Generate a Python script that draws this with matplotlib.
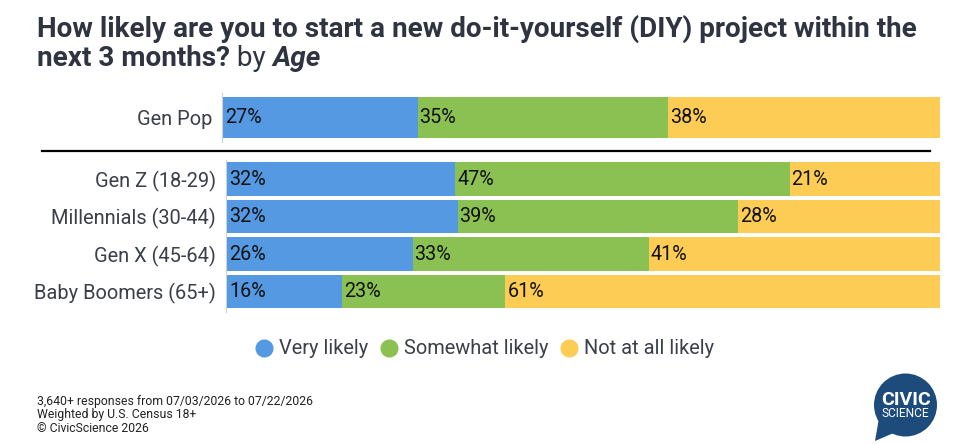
import matplotlib
matplotlib.use("Agg")
import matplotlib.pyplot as plt
from matplotlib.lines import Line2D
from matplotlib.patches import Circle, Polygon

# ---------------- data ----------------
series_names = ["Very likely", "Somewhat likely", "Not at all likely"]
colors = ["#5599E2", "#8BC152", "#FDCC55"]

total_label = ["Gen Pop"]
total_values = [[27.1], [35.0], [37.9]]

age_groups = ["Gen Z (18-29)", "Millennials (30-44)", "Gen X (45-64)", "Baby Boomers (65+)"]
very_likely = [32.0, 32.3, 26.0, 16.1]
somewhat_likely = [46.9, 39.4, 33.1, 22.9]
not_at_all = [21.1, 28.3, 40.9, 61.0]

title_line1 = "How likely are you to start a new do-it-yourself (DIY) project within the"
title_line2_bold = "next 3 months?"
title_line2_by = " by "
title_line2_age = "Age"

footer_lines = ["3,640+ responses from 07/03/2026 to 07/22/2026",
                "Weighted by U.S. Census 18+",
                "\u00a9 CivicScience 2026"]

# ---------------- figure ----------------
W, H = 966, 444
DPI = 100
plt.rcParams["font.family"] = ["Roboto", "DejaVu Sans"]
fig = plt.figure(figsize=(W / DPI, H / DPI), dpi=DPI)
fig.patch.set_facecolor("white")

TITLE_C = "#2E3440"
LABEL_C = "#3A3F4A"
TITLE_FS = 20.1


def fx(px):
    return px / W


def fy(py):
    return 1 - py / H


def px2pt(p):
    return p * 72 / DPI


def add_ax(left, right, top, bottom):
    return fig.add_axes([fx(left), fy(bottom), fx(right) - fx(left), (bottom - top) / H])


def style_ax(ax, eps):
    ax.set_xlim(-eps, 100)
    for s in ["top", "right", "bottom"]:
        ax.spines[s].set_visible(False)
    ax.spines["left"].set_color("#D0D0D0")
    ax.spines["left"].set_linewidth(0.8)
    ax.set_xticks([])
    ax.tick_params(axis="y", length=0, pad=px2pt(10), labelsize=14.4, labelcolor=LABEL_C)
    ax.set_facecolor("none")


def draw_stack(ax, labels, series, height):
    ypos = list(range(len(labels)))
    left = [0.0] * len(labels)
    for vals, col in zip(series, colors):
        bars = ax.barh(ypos, vals, left=left, height=height, color=col, linewidth=0)
        for b, v in zip(bars, vals):
            ax.annotate(f"{round(v):d}%", xy=(b.get_x(), b.get_y() + b.get_height() / 2),
                        xytext=(px2pt(2), 0), textcoords="offset points",
                        ha="left", va="center", fontsize=14.2, color="#111111")
        left = [l + v for l, v in zip(left, vals)]
    ax.set_yticks(ypos)
    ax.set_yticklabels(labels)


# Gen Pop axes
ax1 = add_ax(222.3, 940, 93, 142)
style_ax(ax1, 1.0 / 716.7 * 100)
draw_stack(ax1, total_label, total_values, 1.0)
ax1.set_ylim(0.5 + (142 - 138.3) / 41.6, -0.5 - (96.7 - 93) / 41.6)

# Age axes
ax2 = add_ax(226, 940, 160, 311.7)
style_ax(ax2, 1.3 / 712.7 * 100)
draw_stack(ax2, age_groups, [very_likely, somewhat_likely, not_at_all], 0.896)
pitch = 37.4
ax2.set_ylim(3 + (311.7 - 291.4) / pitch, -(179.2 - 160) / pitch)

# separator line
fig.add_artist(Line2D([fx(42), fx(930)], [fy(151), fy(151)], color="black", linewidth=1.6))

# ---------------- title ----------------
fig.text(fx(37), fy(36.5), title_line1, fontsize=TITLE_FS, fontweight="bold", color=TITLE_C,
         ha="left", va="baseline")
t1 = fig.text(fx(37), fy(66.5), title_line2_bold, fontsize=TITLE_FS, fontweight="bold",
              color=TITLE_C, ha="left", va="baseline")
fig.canvas.draw()
r = fig.canvas.get_renderer()
x_end = t1.get_window_extent(r).x1
t2 = fig.text(x_end / W, fy(66.5), title_line2_by, fontsize=TITLE_FS, color=TITLE_C,
              ha="left", va="baseline")
x_end = t2.get_window_extent(r).x1
fig.text(x_end / W, fy(66.5), title_line2_age, fontsize=TITLE_FS, fontweight="bold",
         fontstyle="italic", color=TITLE_C, ha="left", va="baseline")

# ---------------- legend ----------------
handles = [Line2D([0], [0], marker="o", linestyle="", markersize=12,
                  markerfacecolor=c, markeredgecolor=c) for c in colors]
fig.legend(handles, series_names, loc="center", bbox_to_anchor=(fx(484), fy(349)),
           ncol=3, frameon=False, fontsize=14.4, handletextpad=0.25, columnspacing=0.55,
           handlelength=1.0, labelcolor=LABEL_C)

# ---------------- footer ----------------
for i, line in enumerate(footer_lines):
    fig.text(fx(37), fy(401 + i * 13.6), line, fontsize=8.8, color="#222222",
             ha="left", va="center")

# ---------------- logo ----------------
logo_c = "#1C4B7C"
lax = fig.add_axes([0, 0, 1, 1], facecolor="none")
lax.set_xlim(0, W)
lax.set_ylim(H, 0)
lax.axis("off")
lax.add_patch(Circle((905.5, 405), 31.5, color=logo_c, linewidth=0))
lax.add_patch(Polygon([[879, 418], [875, 441], [896, 432]], closed=True, color=logo_c, linewidth=0))
lax.text(905.5, 399.5, "CIVIC", fontsize=14, fontweight="bold", color="white", ha="center", va="center")
lax.text(905.5, 413.5, "SCIENCE", fontsize=8.6, color="white", ha="center", va="center")

fig.savefig("out.png", dpi=DPI, facecolor="white")
